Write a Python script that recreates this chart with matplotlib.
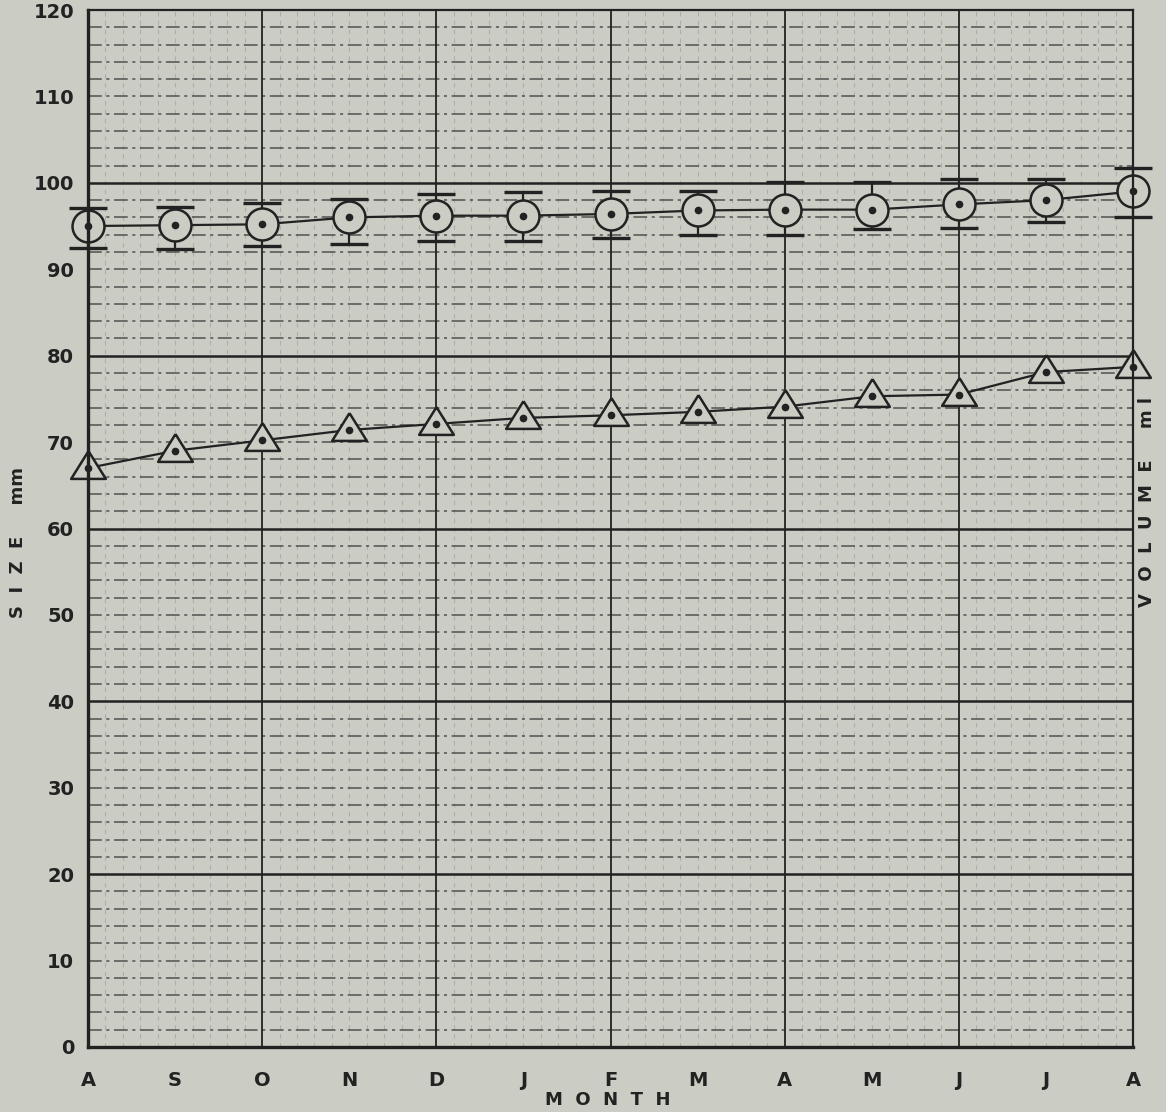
import numpy as np
import matplotlib.pyplot as plt

months = ['A', 'S', 'O', 'N', 'D', 'J', 'F', 'M', 'A', 'M', 'J', 'J', 'A']
size_mean = [95.0, 95.1, 95.2, 96.0, 96.2, 96.2, 96.4, 96.8, 96.9, 96.9, 97.5, 98.0, 99.0]
size_hi = [97.1, 97.2, 97.7, 98.1, 98.7, 98.9, 99.1, 99.1, 100.1, 100.1, 100.4, 100.5, 101.7]
size_lo = [92.5, 92.3, 92.7, 92.9, 93.3, 93.3, 93.6, 94.0, 94.0, 94.7, 94.8, 95.5, 96.1]
volume = [67.0, 69.0, 70.2, 71.4, 72.1, 72.8, 73.1, 73.5, 74.1, 75.3, 75.5, 78.1, 78.7]

bg = '#cbccc4'
ink = '#222222'

x = np.arange(len(months))
mean = np.array(size_mean)
err = [mean - np.array(size_lo), np.array(size_hi) - mean]

fig = plt.figure(figsize=(11.66, 11.12), dpi=100, facecolor=bg)
ax = fig.add_axes([88 / 1166, 1 - 1047 / 1112, (1133 - 88) / 1166, (1047 - 10) / 1112])
ax.set_facecolor(bg)
ax.set_xlim(0, 12)
ax.set_ylim(0, 120)

# grid paper
for v in np.arange(0.2, 12, 0.2):
    if abs(v / 2 - round(v / 2)) < 1e-6:
        continue
    ax.axvline(v, color='#555555', lw=0.8, alpha=0.25, ls=(0, (4, 4)), zorder=1)
for v in range(2, 12, 2):
    ax.axvline(v, color=ink, lw=1.3, zorder=2)
for v in range(2, 120, 2):
    if v % 20 == 0:
        ax.axhline(v, color=ink, lw=1.8, zorder=2)
    else:
        ax.axhline(v, color='#333333', lw=1.1, ls=(0, (9, 3, 2, 3)), alpha=0.8, zorder=1)

# size series with error bars
ax.errorbar(x, mean, yerr=err, fmt='none', ecolor=ink, elinewidth=1.6,
            capsize=14, capthick=2.4, zorder=3, clip_on=False)
ax.plot(x, mean, color=ink, lw=1.6, zorder=3, clip_on=False)
ax.plot(x, mean, 'o', ms=23, mfc=bg, mec=ink, mew=1.8, zorder=4, clip_on=False)
ax.plot(x, mean, 'o', ms=4.5, color=ink, zorder=5, clip_on=False)

# volume series
tri = [(0, 1.0), (-1, -0.6), (1, -0.6), (0, 1.0)]
ax.plot(x, volume, color=ink, lw=1.6, zorder=3, clip_on=False)
ax.plot(x, volume, marker=tri, ls='none', ms=25, mfc=bg, mec=ink, mew=1.8,
        zorder=4, clip_on=False)
ax.plot(x, volume, 'o', ms=4.5, color=ink, zorder=5, clip_on=False)

ax.set_xticks(x)
ax.set_xticklabels(months, fontsize=14, fontweight='bold', color=ink)
ax.set_yticks(range(0, 121, 10))
ax.set_yticklabels([str(v) for v in range(0, 121, 10)], fontsize=14,
                   fontweight='bold', color=ink)
ax.tick_params(axis='both', length=0)
ax.tick_params(axis='x', pad=17)
ax.tick_params(axis='y', pad=10)

for side in ['left', 'bottom']:
    ax.spines[side].set_linewidth(2.4)
for side in ['top', 'right']:
    ax.spines[side].set_linewidth(1.6)
for s in ax.spines.values():
    s.set_color(ink)
    s.set_zorder(6)

fig.text(18 / 1166, 1 - 543 / 1112, 'S  I  Z  E     mm', rotation=90, ha='center',
         va='center', fontsize=13, fontweight='bold', color=ink)
fig.text(1147 / 1166, 1 - 502 / 1112, 'V  O  L  U  M  E     m l', rotation=90,
         ha='center', va='center', fontsize=13, fontweight='bold', color=ink)
fig.text(608 / 1166, 1 - 1100 / 1112, 'M  O  N  T  H', ha='center', va='center',
         fontsize=13, fontweight='bold', color=ink)

fig.savefig('out.png', dpi=100, facecolor=bg)
